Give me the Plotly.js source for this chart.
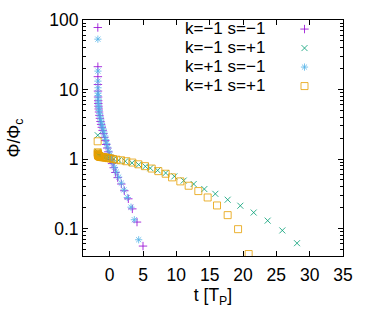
<!DOCTYPE html>
<html>
<head>
<meta charset="utf-8">
<script src="https://cdn.plot.ly/plotly-3.0.1.min.js"></script>
<style>
  html, body { margin: 0; padding: 0; background: #fff; }
  #flux-decay { width: 374px; height: 327px; }
</style>
</head>
<body>
<div id="flux-decay"></div>
<script>
// k=-1 s=-1
const tKmSm = [-1.78, -1.77, -1.77, -1.76, -1.75, -1.74, -1.72, -1.70, -1.68, -1.64, -1.60, -1.54, -1.46, -1.38, -1.28, -1.18, -1.06, -0.94, -0.80, -0.67, -0.52, -0.37, -0.21, -0.04, 0.15, 0.36, 0.60, 0.86, 1.20, 1.75, 2.20, 2.80, 3.40, 4.10, 5.00];
const phiKmSm = [78, 21.3, 15.3, 11.8, 9.5, 7.8, 6.9, 6.3, 5.75, 5.25, 4.75, 4.25, 3.85, 3.47, 3.15, 2.86, 2.58, 2.32, 2.05, 1.84, 1.62, 1.44, 1.27, 1.12, 0.99, 0.86, 0.75, 0.64, 0.54, 0.437, 0.35, 0.268, 0.192, 0.124, 0.056];

// k=-1 s=+1
const tKmSp = [-1.79, -1.78, -1.77, -1.74, -1.69, -1.62, -1.52, -1.40, -1.25, -1.08, -0.88, -0.65, -0.40, -0.12, 0.20, 0.60, 1.35, 2.35, 3.35, 4.35, 5.35, 6.10, 7.20, 8.40, 9.70, 11.1, 12.6, 14.2, 15.85, 17.7, 19.6, 21.6, 23.7, 25.9, 28.1];
const phiKmSp = [2.2, 1.27, 1.2, 1.17, 1.15, 1.13, 1.12, 1.11, 1.1, 1.09, 1.08, 1.07, 1.05, 1.04, 1.02, 1.0, 0.96, 0.93, 0.88, 0.83, 0.785, 0.74, 0.687, 0.63, 0.563, 0.49, 0.437, 0.37, 0.316, 0.26, 0.213, 0.17, 0.13, 0.094, 0.0616];

// k=+1 s=-1
const tKpSm = [-1.77, -1.76, -1.76, -1.75, -1.74, -1.73, -1.71, -1.69, -1.66, -1.62, -1.57, -1.50, -1.42, -1.33, -1.23, -1.12, -1.00, -0.87, -0.74, -0.60, -0.45, -0.30, -0.13, 0.05, 0.25, 0.47, 0.72, 1.00, 1.35, 1.75, 2.15, 2.65, 3.20, 3.70, 4.35];
const phiKpSm = [53, 18.4, 13.2, 10.6, 8.9, 8.2, 7.3, 6.6, 6.0, 5.5, 5.0, 4.5, 4.05, 3.65, 3.3, 3.0, 2.72, 2.45, 2.15, 1.9, 1.68, 1.48, 1.3, 1.15, 1.02, 0.88, 0.76, 0.65, 0.55, 0.45, 0.36, 0.28, 0.203, 0.134, 0.069];

// k=+1 s=+1
const tKpSp = [-1.80, -1.79, -1.78, -1.77, -1.76, -1.74, -1.72, -1.69, -1.65, -1.60, -1.54, -1.46, -1.37, -1.26, -1.13, -0.98, -0.81, -0.62, -0.40, -0.15, 0.15, 0.50, 1.00, 1.70, 2.50, 3.40, 4.30, 5.30, 6.30, 7.30, 8.40, 9.36, 10.6, 11.85, 13.3, 14.7, 16.1, 17.7, 19.26, 20.85];
const phiKpSp = [1.8, 1.25, 1.21, 1.18, 1.16, 1.14, 1.13, 1.12, 1.11, 1.1, 1.09, 1.08, 1.075, 1.07, 1.065, 1.06, 1.055, 1.05, 1.04, 1.03, 1.02, 1.0, 0.98, 0.96, 0.93, 0.89, 0.84, 0.79, 0.73, 0.67, 0.615, 0.545, 0.477, 0.413, 0.346, 0.28, 0.215, 0.156, 0.098, 0.043];

const seriesLabels = ["k=\u22121 s=\u22121", "k=\u22121 s=+1", "k=+1 s=\u22121", "k=+1 s=+1"];
const seriesColors = ["#9400d3", "#009e73", "#56b4e9", "#e69f00"];
const seriesSymbols = ["cross-thin-open", "x-thin-open", "asterisk-open", "square-open"];
const seriesT = [tKmSm, tKmSp, tKpSm, tKpSp];
const seriesPhi = [phiKmSm, phiKmSp, phiKpSm, phiKpSp];

const font = "Liberation Sans, Arial, sans-serif";

const traces = seriesT.map((t, i) => ({
    x: t,
    y: seriesPhi[i],
    type: "scatter",
    mode: "markers",
    name: " ",
    marker: {
        symbol: seriesSymbols[i],
        size: i === 3 ? 7 : 6,
        color: seriesColors[i],
        opacity: 0.8,
        line: { color: seriesColors[i], width: 1 }
    },
    hoverinfo: "x+y"
}));

// legend text drawn right-aligned, left of the legend symbols (gnuplot style)
const annotations = seriesLabels.map((label, i) => ({
    text: label,
    xref: "paper",
    yref: "paper",
    x: 0.707,
    y: 0.962 - i * 0.0805,
    xanchor: "right",
    yanchor: "middle",
    showarrow: false,
    font: { family: font, size: 17, color: "#000" }
}));

const axisCommon = {
    showline: true,
    linecolor: "#000",
    linewidth: 1,
    mirror: "ticks",
    ticks: "inside",
    ticklen: 5,
    tickcolor: "#000",
    showgrid: false,
    zeroline: false,
    tickfont: { family: font, size: 17.5, color: "#000" }
};

const layout = {
    width: 374,
    height: 327,
    margin: { l: 83, r: 31, t: 20, b: 71 },
    paper_bgcolor: "#fff",
    plot_bgcolor: "#fff",
    showlegend: true,
    legend: {
        x: 0.775,
        y: 1.023,
        xanchor: "left",
        yanchor: "top",
        bgcolor: "rgba(0,0,0,0)",
        font: { family: font, size: 10, color: "#000" },
        itemwidth: 30
    },
    xaxis: Object.assign({}, axisCommon, {
        range: [-4, 35],
        dtick: 5,
        tick0: 0,
        ticklabelstandoff: 3,
        title: { text: "t [T<sub>P</sub>]", font: { family: font, size: 17.5, color: "#000" }, standoff: 1 }
    }),
    yaxis: Object.assign({}, axisCommon, {
        type: "log",
        range: [Math.log10(0.0403), 2],
        dtick: 1,
        ticklabelstandoff: 0,
        minor: { dtick: "D1", ticks: "inside", ticklen: 3, tickcolor: "#000", showgrid: false },
        title: { text: "\u03a6/\u03a6<sub>c</sub>", font: { family: font, size: 17.5, color: "#000" }, standoff: 24 }
    }),
    annotations: annotations
};

Plotly.newPlot("flux-decay", traces, layout, { displayModeBar: false, staticPlot: true });
</script>
</body>
</html>
